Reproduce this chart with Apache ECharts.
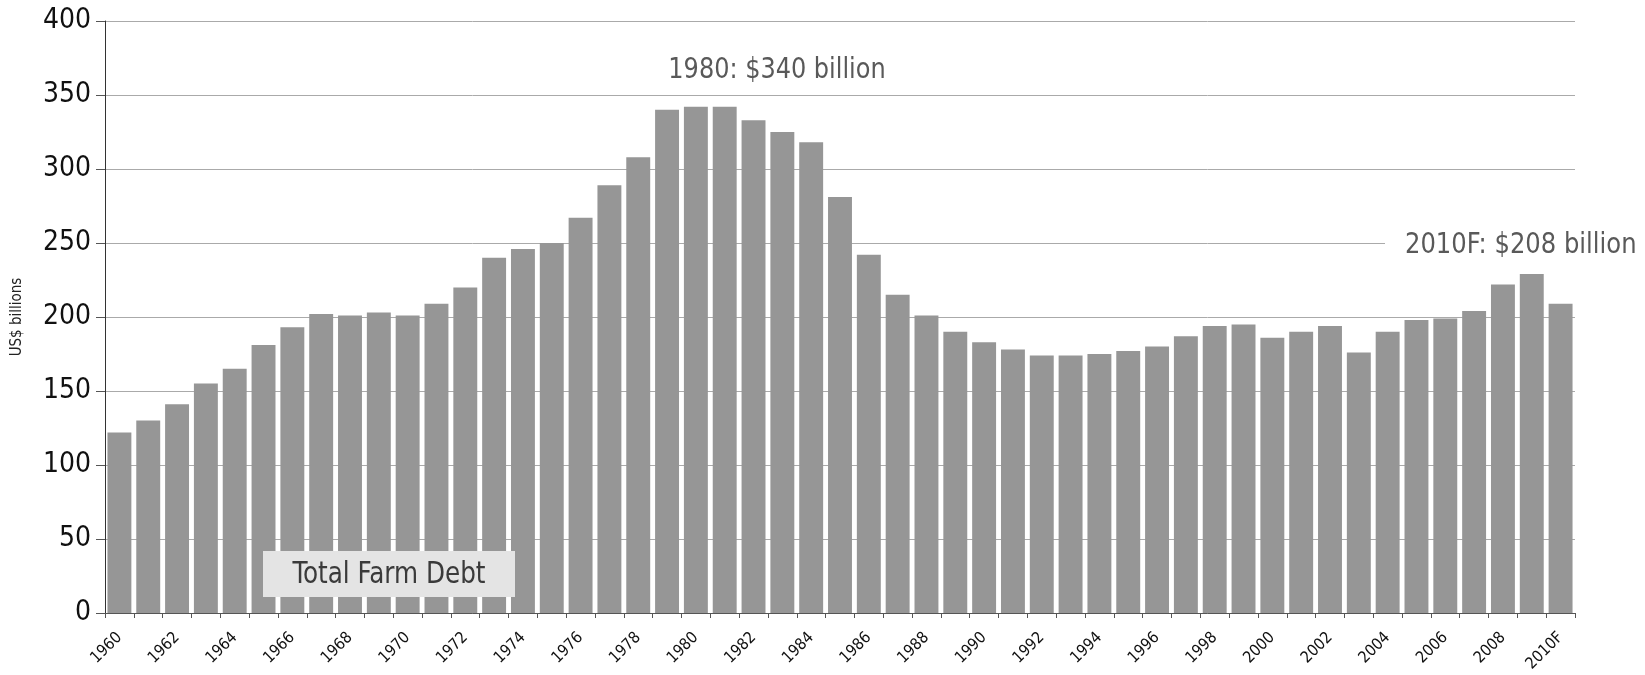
<!DOCTYPE html>
<html>
<head>
<meta charset="utf-8">
<script src="https://cdn.jsdelivr.net/npm/echarts@6/dist/echarts.min.js"></script>
<style>
html,body{margin:0;padding:0;background:#fff;}
#chart{width:1645px;height:675px;}
</style>
</head>
<body>
<div id="chart"></div>
<script>
const categories = ['1960','1961','1962','1963','1964','1965','1966','1967','1968','1969',
  '1970','1971','1972','1973','1974','1975','1976','1977','1978','1979',
  '1980','1981','1982','1983','1984','1985','1986','1987','1988','1989',
  '1990','1991','1992','1993','1994','1995','1996','1997','1998','1999',
  '2000','2001','2002','2003','2004','2005','2006','2007','2008','2009','2010F'];
const farmDebt = [122,130,141,155,165,181,193,202,201,203,
  201,209,220,240,246,250,267,289,308,340,
  342,342,333,325,318,281,242,215,201,190,
  183,178,174,174,175,177,180,187,194,195,
  186,190,194,176,190,198,199,204,222,229,209];
const yTicks = [0,50,100,150,200,250,300,350,400];
const yAxisTitle = 'US$ billions';
const seriesName = 'Total Farm Debt';
const peakNote = '1980: $340 billion';
const lastNote = '2010F: $208 billion';

const FONT = "'Liberation Sans Narrow','Arial Narrow','DejaVu Sans Condensed','Liberation Sans',sans-serif";

const chart = echarts.init(document.getElementById('chart'), null, {renderer:'canvas'});
chart.setOption({
  animation: false,
  backgroundColor: '#ffffff',
  grid: {left: 105, right: 70, top: 21, bottom: 62, containLabel: false},
  xAxis: {
    type: 'category',
    data: categories,
    boundaryGap: true,
    axisLine: {show: true, lineStyle: {color: '#555', width: 1}},
    axisTick: {show: true, interval: 0, alignWithLabel: false, length: 5, lineStyle: {color: '#555'}},
    axisLabel: {interval: 1, rotate: 45, fontSize: 16, color: '#111', fontFamily: FONT, margin: 22}
  },
  yAxis: {
    type: 'value',
    min: yTicks[0], max: yTicks[yTicks.length-1], interval: 50,
    name: yAxisTitle,
    nameLocation: 'middle',
    nameGap: 80,
    nameTextStyle: {fontSize: 15, color: '#222', fontFamily: FONT},
    axisLine: {show: true, lineStyle: {color: '#333', width: 1}},
    axisTick: {show: true, length: 9, lineStyle: {color: '#555'}},
    axisLabel: {fontSize: 28, color: '#111', fontFamily: FONT, margin: 14},
    splitLine: {show: true, lineStyle: {color: '#aaaaaa', width: 1}}
  },
  series: [{
    name: seriesName,
    type: 'bar',
    data: farmDebt,
    barCategoryGap: '17%',
    itemStyle: {color: '#969696'}
  }],
  graphic: [
    {type: 'rect', shape: {x: 263, y: 551, width: 252, height: 46}, style: {fill: '#e4e4e4'}, z: 100},
    {type: 'text', x: 389, y: 575, z: 101, scaleX: 0.915,
      style: {text: seriesName, fontSize: 30, fontFamily: FONT, fill: '#3a3a3a', align: 'center', verticalAlign: 'middle'}},
    {type: 'text', x: 777, y: 70, z: 101, scaleX: 0.92,
      style: {text: peakNote, fontSize: 29, fontFamily: FONT, fill: '#595959', align: 'center', verticalAlign: 'middle'}},
    {type: 'rect', shape: {x: 1385, y: 228, width: 260, height: 32}, style: {fill: '#ffffff'}, z: 100},
    {type: 'text', x: 1405, y: 245, z: 101, scaleX: 0.93,
      style: {text: lastNote, fontSize: 29, fontFamily: FONT, fill: '#595959', align: 'left', verticalAlign: 'middle'}}
  ]
});
</script>
</body>
</html>
